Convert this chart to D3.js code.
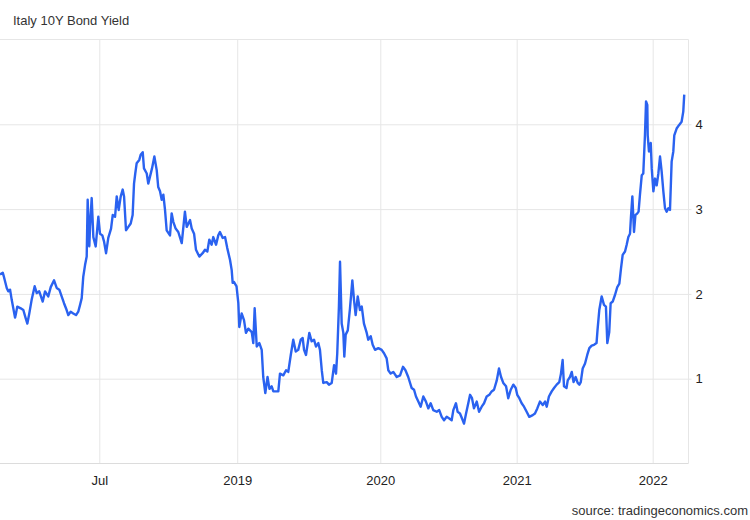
<!DOCTYPE html>
<html>
<head>
<meta charset="utf-8">
<script src="https://cdn.jsdelivr.net/npm/d3@7"></script>
<style>
  html, body { margin: 0; padding: 0; background: #fff; }
  svg { display: block; font-family: "Liberation Sans", Arial, Helvetica, sans-serif; }
</style>
</head>
<body>
<svg id="chart" width="750" height="520"></svg>
<script>
// Time in decimal years (axis units), yield in percent
const times = [
2017.282,2017.302,2017.311,2017.331,2017.342,2017.355,2017.367,2017.391,2017.398,2017.407,
2017.432,2017.451,2017.465,2017.480,2017.494,2017.511,2017.533,2017.548,2017.566,2017.591,
2017.608,2017.631,2017.649,2017.673,2017.692,2017.711,2017.728,2017.745,2017.764,2017.776,
2017.793,2017.812,2017.832,2017.848,2017.861,2017.873,2017.884,2017.897,2017.909,2017.916,
2017.928,2017.933,2017.945,2017.957,2017.974,2017.993,2018.005,2018.022,2018.034,2018.049,
2018.065,2018.085,2018.097,2018.114,2018.126,2018.140,2018.155,2018.169,2018.179,2018.193,
2018.210,2018.227,2018.241,2018.251,2018.260,2018.270,2018.289,2018.299,2018.314,2018.323,
2018.343,2018.354,2018.366,2018.381,2018.398,2018.415,2018.426,2018.439,2018.451,2018.463,
2018.475,2018.487,2018.511,2018.523,2018.535,2018.552,2018.571,2018.596,2018.619,2018.632,
2018.656,2018.668,2018.685,2018.699,2018.723,2018.747,2018.764,2018.781,2018.795,2018.812,
2018.824,2018.844,2018.860,2018.872,2018.892,2018.909,2018.925,2018.945,2018.957,2018.964,
2018.974,2018.992,2019.005,2019.012,2019.029,2019.046,2019.060,2019.077,2019.102,2019.113,
2019.123,2019.138,2019.157,2019.174,2019.185,2019.200,2019.216,2019.230,2019.246,2019.258,
2019.282,2019.294,2019.306,2019.330,2019.350,2019.366,2019.384,2019.402,2019.420,2019.438,
2019.456,2019.470,2019.480,2019.494,2019.518,2019.535,2019.552,2019.566,2019.583,2019.595,
2019.608,2019.619,2019.644,2019.660,2019.680,2019.697,2019.711,2019.720,2019.732,2019.740,
2019.752,2019.764,2019.771,2019.781,2019.796,2019.812,2019.829,2019.841,2019.853,2019.868,
2019.884,2019.897,2019.913,2019.933,2019.944,2019.962,2019.976,2019.993,2020.017,2020.041,
2020.058,2020.077,2020.089,2020.106,2020.125,2020.150,2020.174,2020.195,2020.213,2020.233,
2020.258,2020.275,2020.289,2020.306,2020.323,2020.342,2020.361,2020.378,2020.395,2020.414,
2020.439,2020.457,2020.475,2020.492,2020.511,2020.530,2020.547,2020.559,2020.578,2020.590,
2020.607,2020.622,2020.636,2020.651,2020.667,2020.680,2020.694,2020.708,2020.728,2020.745,
2020.764,2020.781,2020.800,2020.819,2020.836,2020.853,2020.873,2020.889,2020.904,2020.920,
2020.940,2020.956,2020.974,2020.993,2021.010,2021.021,2021.036,2021.053,2021.070,2021.089,
2021.108,2021.133,2021.149,2021.166,2021.185,2021.205,2021.222,2021.234,2021.250,2021.270,
2021.287,2021.306,2021.325,2021.337,2021.349,2021.359,2021.377,2021.386,2021.402,2021.415,
2021.428,2021.443,2021.458,2021.470,2021.480,2021.494,2021.511,2021.527,2021.542,2021.559,
2021.576,2021.594,2021.601,2021.614,2021.631,2021.648,2021.662,2021.672,2021.686,2021.696,
2021.711,2021.728,2021.744,2021.759,2021.771,2021.783,2021.800,2021.812,2021.824,2021.836,
2021.843,2021.853,2021.865,2021.875,2021.889,2021.898,2021.908,2021.921,2021.932,2021.944,
2021.952,2021.961,2021.964,2021.973,2021.986,2021.993,2022.005,2022.017,2022.029,2022.041,
2022.053,2022.065,2022.077,2022.089,2022.101,2022.113,2022.125,2022.137,2022.149,2022.156,
2022.173,2022.190,2022.209,2022.221,2022.228
];
const yields = [
2.23,2.25,2.20,2.07,2.03,2.05,1.93,1.72,1.77,1.85,
1.83,1.81,1.73,1.65,1.77,1.93,2.09,2.01,2.03,1.91,
2.03,1.97,2.08,2.16,2.07,2.05,1.97,1.89,1.81,1.75,
1.79,1.77,1.75,1.79,1.87,1.95,2.20,2.34,2.44,3.11,
2.56,2.79,3.13,2.67,2.56,2.91,2.71,2.69,2.62,2.48,
2.66,2.77,2.93,2.91,3.15,2.99,3.15,3.23,3.15,2.75,
2.79,2.83,2.93,3.30,3.42,3.54,3.58,3.64,3.67,3.48,
3.42,3.30,3.38,3.48,3.62,3.46,3.26,3.21,3.11,3.17,
2.99,2.75,2.69,2.95,2.85,2.77,2.73,2.60,2.97,2.79,
2.87,2.77,2.71,2.52,2.44,2.48,2.52,2.50,2.64,2.58,
2.67,2.58,2.69,2.73,2.66,2.67,2.54,2.40,2.28,2.13,
2.14,2.09,1.89,1.61,1.77,1.69,1.54,1.59,1.55,1.42,
1.83,1.38,1.42,1.34,1.02,0.83,1.02,0.88,0.91,0.85,
0.85,0.85,1.06,1.04,1.10,1.08,1.28,1.46,1.32,1.34,
1.46,1.48,1.34,1.28,1.54,1.44,1.46,1.38,1.42,1.34,
1.10,0.95,0.96,0.93,0.95,1.16,1.06,1.30,1.85,2.38,
1.65,1.54,1.26,1.52,1.57,1.83,2.16,1.93,1.75,1.97,
1.81,1.85,1.65,1.54,1.46,1.50,1.40,1.34,1.36,1.34,
1.30,1.24,1.10,1.06,1.08,1.02,1.04,1.14,1.10,1.02,
0.89,0.87,0.79,0.73,0.67,0.79,0.73,0.65,0.71,0.63,
0.61,0.63,0.55,0.51,0.55,0.53,0.51,0.63,0.71,0.61,
0.59,0.53,0.47,0.59,0.71,0.81,0.77,0.65,0.73,0.61,
0.67,0.71,0.79,0.81,0.85,0.87,0.98,1.12,1.02,0.95,
0.91,0.77,0.87,0.93,0.89,0.81,0.77,0.71,0.67,0.61,
0.55,0.57,0.59,0.65,0.73,0.69,0.73,0.67,0.79,0.85,
0.89,0.93,0.96,1.06,1.22,0.91,0.89,0.98,1.02,1.08,
0.96,1.02,0.95,0.93,0.96,1.12,1.18,1.28,1.36,1.39,
1.40,1.42,1.57,1.81,1.97,1.87,1.85,1.42,1.55,1.89,
1.91,1.99,2.08,2.12,2.30,2.46,2.50,2.58,2.67,2.71,
2.91,3.15,2.73,2.93,2.95,2.97,3.17,3.40,3.42,3.87,
4.27,4.23,3.87,3.68,3.78,3.48,3.21,3.36,3.28,3.42,
3.62,3.44,3.21,3.01,2.97,3.01,2.99,3.56,3.68,3.87,
3.95,3.99,4.03,4.15,4.35
];
const xTickValues = [2018.000, 2018.997, 2020.031, 2021.017, 2022.000];
const xTickLabels = ["Jul", "2019", "2020", "2021", "2022"];
const yTickValues = [1, 2, 3, 4];
const yTickLabels = ["1", "2", "3", "4"];
const titleText = "Italy 10Y Bond Yield";
const sourceText = "source: tradingeconomics.com";

const data = times.map((t, i) => ({ t, v: yields[i] }));

const svg = d3.select("#chart");
const plot = { left: 0, right: 688.5, top: 39.5, bottom: 463.5 };

const x = d3.scaleLinear()
  .domain([2017.2823, 2022.2823])
  .range([0, 0 + 5 * 138.35]);
const y = d3.scaleLinear()
  .domain([0, 5])
  .range([plot.bottom, plot.top]);

const gridColor = "#e6e6e6";

// title
svg.append("text")
  .attr("x", 13).attr("y", 25)
  .attr("font-size", 13).attr("fill", "#333")
  .text(titleText);

// top line
svg.append("line")
  .attr("x1", 0).attr("x2", plot.right)
  .attr("y1", plot.top).attr("y2", plot.top)
  .attr("stroke", gridColor);

// horizontal grid + right axis
const yAxis = d3.axisRight(y)
  .tickValues(yTickValues)
  .tickSize(-plot.right)
  .tickPadding(7)
  .tickFormat((d, i) => yTickLabels[i]);
const gy = svg.append("g")
  .attr("transform", `translate(${plot.right + 3},0)`)
  .call(yAxis);
gy.select(".domain").remove();
gy.selectAll(".tick line").attr("stroke", gridColor).attr("x2", -plot.right - 3);
gy.selectAll(".tick text").attr("font-size", 13).attr("fill", "#222")
  .attr("font-family", "Liberation Sans, Arial, sans-serif").attr("x", 4);

// vertical grid + bottom axis
const xAxis = d3.axisBottom(x)
  .tickValues(xTickValues)
  .tickSize(-(plot.bottom - plot.top))
  .tickPadding(12)
  .tickFormat((d, i) => xTickLabels[i]);
const gx = svg.append("g")
  .attr("transform", `translate(0,${plot.bottom})`)
  .call(xAxis);
gx.select(".domain").remove();
gx.selectAll(".tick line").attr("stroke", gridColor);
gx.selectAll(".tick text").attr("font-size", 13).attr("fill", "#222")
  .attr("font-family", "Liberation Sans, Arial, sans-serif");

// bottom axis line and right border
svg.append("line")
  .attr("x1", 0).attr("x2", plot.right)
  .attr("y1", plot.bottom).attr("y2", plot.bottom)
  .attr("stroke", "#dcdcdc");
svg.append("line")
  .attr("x1", plot.right).attr("x2", plot.right)
  .attr("y1", plot.top).attr("y2", plot.bottom)
  .attr("stroke", gridColor);

// line series
const line = d3.line()
  .x(d => x(d.t))
  .y(d => y(d.v));
svg.append("path")
  .datum(data)
  .attr("fill", "none")
  .attr("stroke", "#2a62f0")
  .attr("stroke-width", 2.4)
  .attr("stroke-linejoin", "round")
  .attr("d", line);

// source
svg.append("text")
  .attr("x", 748).attr("y", 515)
  .attr("text-anchor", "end")
  .attr("font-size", 13).attr("fill", "#333")
  .text(sourceText);
</script>
</body>
</html>
